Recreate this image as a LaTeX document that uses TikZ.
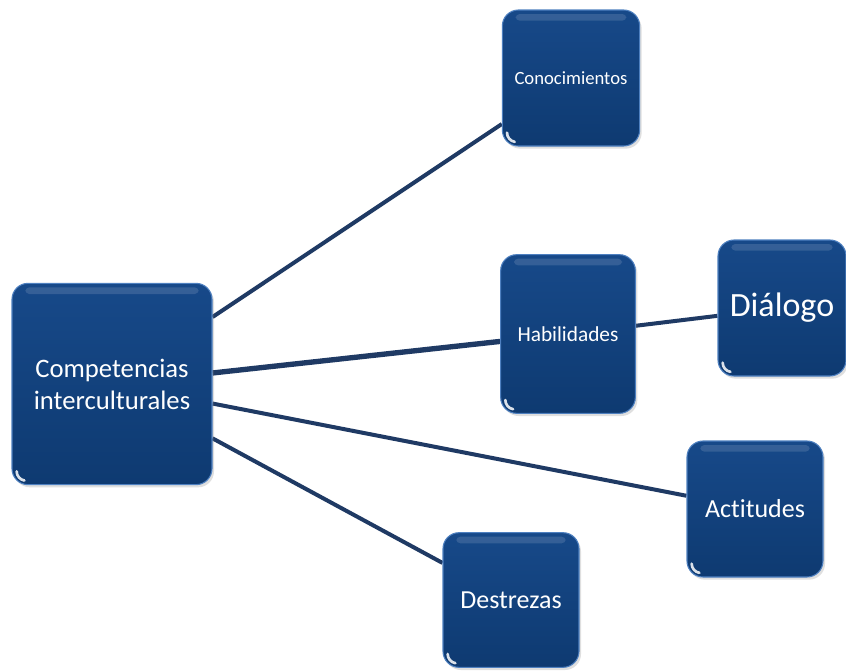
\documentclass[tikz,border=0pt]{standalone}
\usepackage{fontspec}
\setmainfont{Carlito}[Ligatures=NoCommon]
\usetikzlibrary{shadows,backgrounds}

\definecolor{boxtop}{HTML}{174989}
\definecolor{boxbottom}{HTML}{0E3A71}
\definecolor{boxedge}{HTML}{4E80C0}
\definecolor{linkcol}{HTML}{1F3A64}

\begin{document}
\begin{tikzpicture}[x=0.75pt, y=-0.75pt,
        card/.style={rectangle, rounded corners=12pt, draw=boxedge, line width=0.8pt,
            top color=boxtop, bottom color=boxbottom, text=white, align=center,
            inner sep=2pt,
            drop shadow={opacity=0.25, shadow xshift=1.5pt, shadow yshift=-2pt},
            path picture={
                \fill[white, opacity=0.13, rounded corners=3pt]
                    ([xshift=10pt,yshift=-3pt]path picture bounding box.north west)
                    rectangle ([xshift=-10pt,yshift=-8pt]path picture bounding box.north east);
                \draw[white, opacity=0.85, line width=2pt, line cap=round]
                    ([xshift=3.5pt,yshift=10pt]path picture bounding box.south west)
                    arc[start angle=180, end angle=260, radius=7pt];
            }},
        link/.style={draw=linkcol, line width=3pt},
    ]
    \useasboundingbox (0,0) rectangle (846,671);

    \node[card, minimum width=150pt, minimum height=151pt,
        font=\fontsize{20}{24}\selectfont] (comp) at (112,384) {Competencias\\interculturales};
    \node[card, minimum width=103pt, minimum height=102pt,
        font=\fontsize{14}{16}\selectfont] (conoc) at (571,78) {Conocimientos};
    \node[card, minimum width=101pt, minimum height=119pt,
        font=\fontsize{16}{18}\selectfont] (habil) at (568,334) {Habilidades};
    \node[card, minimum width=96pt, minimum height=102pt,
        font=\fontsize{25.5}{28}\selectfont] (dialogo) at (782,308) {Diálogo};
    \node[card, minimum width=102pt, minimum height=102pt,
        font=\fontsize{19.5}{22}\selectfont] (actit) at (755,509) {Actitudes};
    \node[card, minimum width=102pt, minimum height=101pt,
        font=\fontsize{19.5}{22}\selectfont] (destr) at (511,600) {Destrezas};

    % connectors go behind the cards
    \begin{scope}[on background layer]
        \fill[white] (0,0) rectangle (846,671);
        \draw[link] (comp) -- (conoc);
        \draw[link, line width=4pt] (comp) -- (habil);
        \draw[link] (comp) -- (actit);
        \draw[link] (comp) -- (destr);
        \draw[link] (habil) -- (dialogo);
    \end{scope}
\end{tikzpicture}
\end{document}
